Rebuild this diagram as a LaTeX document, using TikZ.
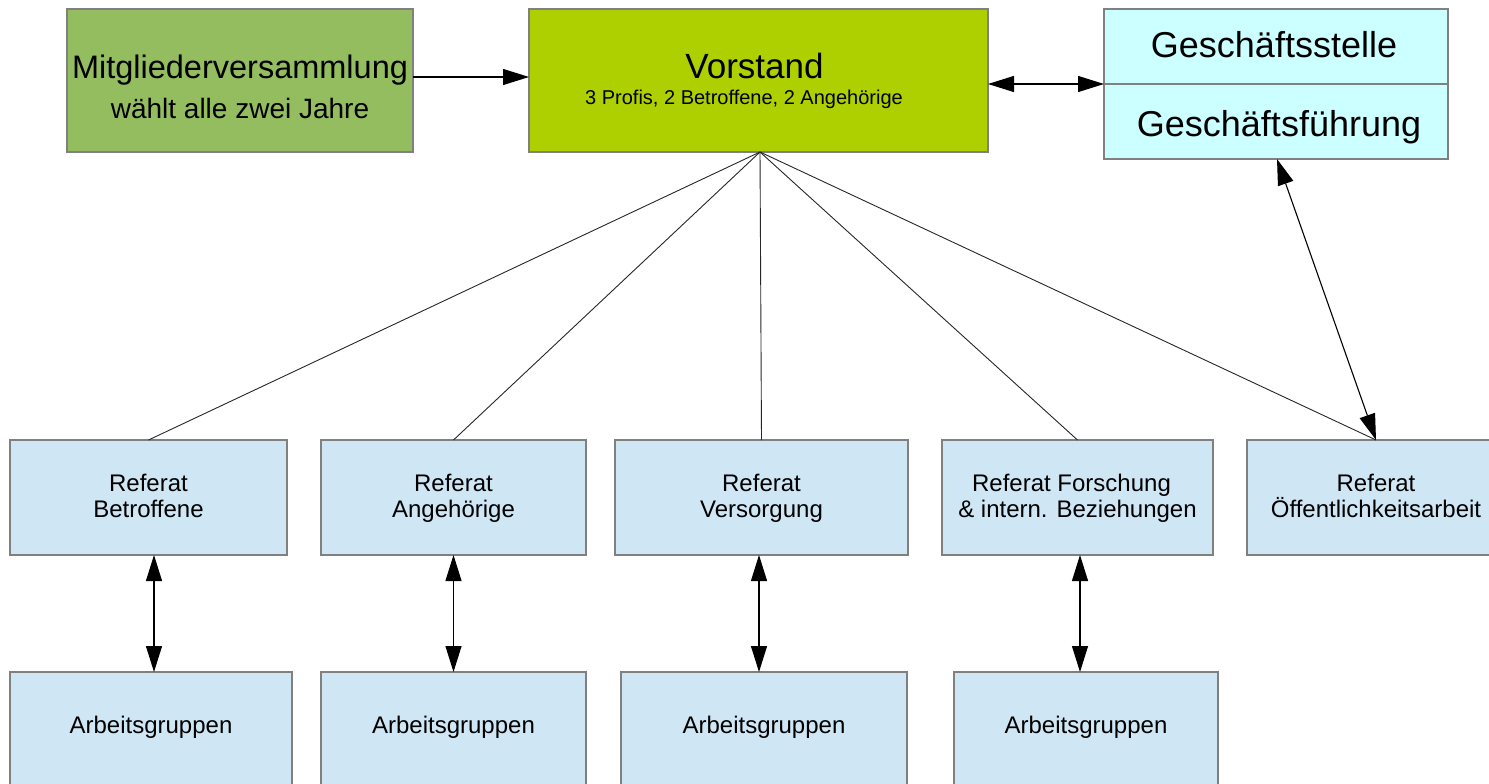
\documentclass[tikz,border=0pt]{standalone}
\usepackage{fontspec}
\setmainfont{Liberation Sans}
\usetikzlibrary{arrows.meta}
\definecolor{mvgreen}{RGB}{147,189,94}
\definecolor{vsgreen}{RGB}{174,207,0}
\definecolor{gscyan}{RGB}{204,255,255}
\definecolor{refblue}{RGB}{207,230,244}
\definecolor{bordergray}{RGB}{128,128,128}
\newcommand\fsz[1]{\fontsize{#1}{#1}\selectfont}
\tikzset{
  box/.style={draw=bordergray, line width=1.3pt, inner sep=0pt, outer sep=0pt},
  refbox/.style={box, fill=refblue},
  txt/.style={anchor=base, inner sep=0pt, text=black},
  conn/.style={line width=1.1pt, black},
  fan/.style={line width=0.9pt, black!85},
  tip/.tip={Triangle[length=26pt,width=16pt]},
  dar/.style={conn, tip-tip},
  sar/.style={conn, -tip},
}
\begin{document}
\begin{tikzpicture}[x=1pt,y=-1pt]
\useasboundingbox (0,0) rectangle (1489,784);
% top row
\node[box, fill=mvgreen, minimum width=346pt, minimum height=143pt] (mv) at (240,80.5) {};
\node[box, fill=vsgreen, minimum width=459pt, minimum height=143pt] (vs) at (758.5,80.5) {};
\node[box, fill=gscyan, minimum width=344pt, minimum height=150pt] (gs) at (1276,84) {};
\draw[bordergray, line width=1.3pt] (gs.west) -- (gs.east);
\node[txt, font=\fsz{32.5}] (mvt1) at (240,79) {Mitgliederversammlung};
\node[txt, font=\fsz{28}] (mvt2) at (240,118) {wählt alle zwei Jahre};
\node[txt, font=\fsz{35}] (vst1) at (754.5,78) {Vorstand};
\node[txt, font=\fsz{20}] (vst2) at (744,104) {3 Profis, 2 Betroffene, 2 Angehörige};
\node[txt, font=\fsz{36}] (gst1) at (1274,58) {Geschäftsstelle};
\node[txt, font=\fsz{36}] (gst2) at (1279,136) {Geschäftsführung};
% referat row
\node[refbox, minimum width=277pt, minimum height=115pt] (rb) at (148.5,497.5) {};
\node[refbox, minimum width=265pt, minimum height=115pt] (ra) at (453.5,497.5) {};
\node[refbox, minimum width=293pt, minimum height=115pt] (rv) at (761.5,497.5) {};
\node[refbox, minimum width=271pt, minimum height=115pt] (rf) at (1077.5,497.5) {};
\node[refbox, minimum width=258pt, minimum height=115pt] (ro) at (1376,497.5) {};
\foreach \n/\a in {rb/Betroffene, ra/Angehörige, rv/Versorgung, ro/Öffentlichkeitsarbeit}{
  \node[txt, font=\fsz{24}] (\n t1) at ([yshift=6.5pt]\n.center) {Referat\hspace{0.28em}};
  \node[txt, font=\fsz{24}] (\n t2) at ([yshift=-20pt]\n.center) {\a};
}
\node[txt, font=\fsz{24}] (rft1) at ([yshift=6.5pt, xshift=-6pt]rf.center) {Referat Forschung};
\node[txt, font=\fsz{24}] (rft2) at ([yshift=-20pt]rf.center) {\& intern. Beziehungen};
% arbeitsgruppen row
\node[refbox, minimum width=282pt, minimum height=114pt] (ag1) at (151,729) {};
\node[refbox, minimum width=265pt, minimum height=114pt] (ag2) at (453.5,729) {};
\node[refbox, minimum width=286pt, minimum height=114pt] (ag3) at (764,729) {};
\node[refbox, minimum width=264pt, minimum height=114pt] (ag4) at (1086,729) {};
\foreach \n in {ag1,ag2,ag3,ag4}{
  \node[txt, font=\fsz{24}] (\n t) at ([yshift=-4pt]\n.center) {Arbeitsgruppen};
}
% connectors top
\draw[sar] ([yshift=3.5pt]mv.east) -- ([yshift=3.5pt]vs.west);
\draw[dar] (vs.east |- gs.west) -- (gs.west);
% fan
\foreach \n in {rb,ra,rv,rf,ro}{
  \draw[fan] ([xshift=1.5pt]vs.south) -- (\n.north);
}
\draw[dar] ([xshift=1pt]gs.south) -- (ro.north);
% vertical double arrows
\draw[dar] ([xshift=5.5pt]rb.south) -- ([xshift=5.5pt]rb.south |- ag1.north);
\draw[dar] (ra.south) -- (ra.south |- ag2.north);
\draw[dar] ([xshift=-2.5pt]rv.south) -- ([xshift=-2.5pt]rv.south |- ag3.north);
\draw[dar] ([xshift=2.5pt]rf.south) -- ([xshift=2.5pt]rf.south |- ag4.north);
\end{tikzpicture}
\end{document}
